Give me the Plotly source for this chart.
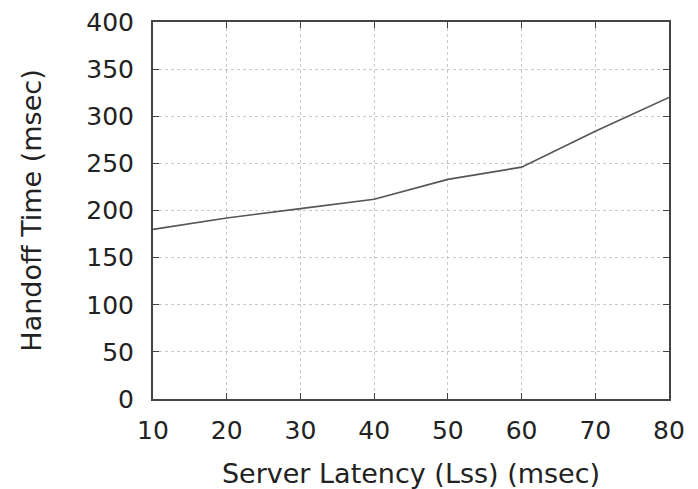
import plotly.graph_objects as go

# Handoff time measured against server latency
server_latency = [10, 20, 30, 40, 50, 60, 70, 80]
handoff_time = [180, 192, 202, 212, 233, 246, 284, 320]

x_ticks = [10, 20, 30, 40, 50, 60, 70, 80]
y_ticks = [0, 50, 100, 150, 200, 250, 300, 350, 400]

FONT = "DejaVu Sans, Liberation Sans, Arial, sans-serif"
TEXT_COLOR = "#222222"
AXIS_COLOR = "#444444"
GRID_COLOR = "#c8c8c8"

fig = go.Figure()
fig.add_trace(go.Scatter(
    x=server_latency,
    y=handoff_time,
    mode="lines",
    line=dict(color="#555555", width=1.6),
    showlegend=False,
))

common_axis = dict(
    showline=True,
    linecolor=AXIS_COLOR,
    linewidth=2,
    mirror="allticks",
    ticks="inside",
    ticklen=6,
    tickwidth=1,
    tickcolor=AXIS_COLOR,
    showgrid=True,
    gridcolor=GRID_COLOR,
    griddash="3px,3px",
    gridwidth=1,
    zeroline=False,
    automargin=False,
    tickfont=dict(family=FONT, size=25, color=TEXT_COLOR),
)

fig.update_xaxes(
    range=[10, 80],
    tickvals=x_ticks,
    ticktext=[str(v) for v in x_ticks],
    ticklabelstandoff=8,
    title=dict(text="Server Latency (Lss) (msec)",
               font=dict(family=FONT, size=27, color=TEXT_COLOR),
               standoff=25),
    **common_axis,
)
fig.update_yaxes(
    range=[0, 400],
    tickvals=y_ticks,
    ticktext=[str(v) for v in y_ticks],
    ticklabelstandoff=12,
    title=dict(text="Handoff Time (msec)",
               font=dict(family=FONT, size=27, color=TEXT_COLOR),
               standoff=37),
    **common_axis,
)

fig.update_layout(
    width=698,
    height=489,
    margin=dict(l=153, r=29, t=22, b=90),
    paper_bgcolor="white",
    plot_bgcolor="white",
)

fig.write_html("out.html")
